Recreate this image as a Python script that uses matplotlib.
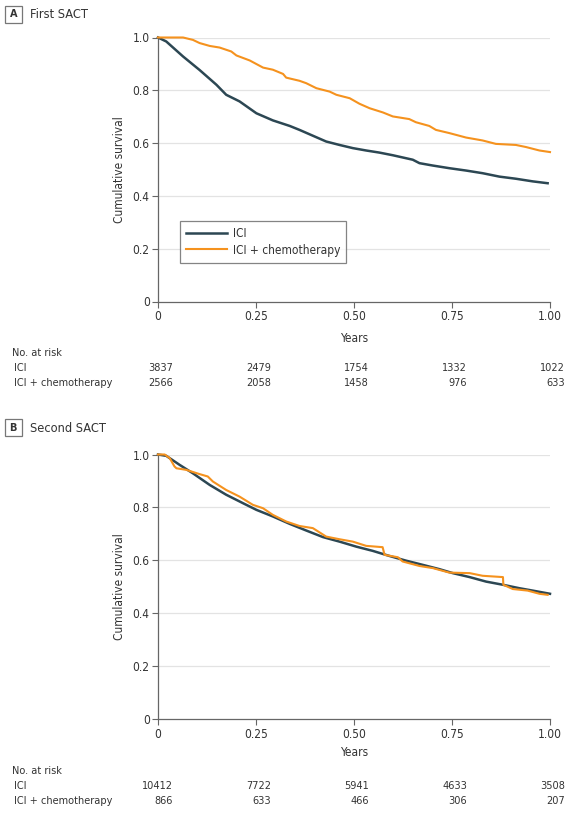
import matplotlib
matplotlib.use("Agg")
import matplotlib.pyplot as plt
from matplotlib.patches import Rectangle

plt.rcParams['font.family'] = ['DejaVu Sans']
plt.rcParams['font.stretch'] = 'condensed'

# ---------------- data ----------------
groups = ["ICI", "ICI + chemotherapy"]
xticks = [0, 0.25, 0.50, 0.75, 1.00]
xtick_labels = ["0", "0.25", "0.50", "0.75", "1.00"]
yticks = [0, 0.2, 0.4, 0.6, 0.8, 1.0]
ytick_labels = ["0", "0.2", "0.4", "0.6", "0.8", "1.0"]

a_ici_t = [0, .021, .064, .106, .149, .174, .208, .251, .293, .336, .361, .395, .429, .463,
           .497, .531, .565, .599, .650, .667, .701, .743, .786, .828, .871, .913, .956, .994]
a_ici_s = [1.0, .985, .928, .877, .821, .783, .758, .713, .686, .665, .650, .628, .606, .593,
           .581, .572, .564, .554, .537, .524, .515, .505, .496, .486, .473, .465, .455, .448]
a_chemo_t = [0, .064, .089, .106, .132, .157, .187, .200, .234, .268, .293, .319, .327, .361,
             .378, .404, .438, .455, .489, .514, .540, .574, .599, .641, .658, .692, .709, .743,
             .786, .828, .862, .913, .939, .973, 1.0]
a_chemo_s = [1.0, 1.0, .991, .979, .968, .962, .947, .932, .913, .886, .878, .862, .848, .836,
             .827, .808, .795, .783, .770, .749, .732, .716, .701, .691, .679, .665, .650, .638,
             .621, .610, .597, .593, .585, .572, .566]

b_ici_t = [0, .021, .055, .089, .132, .174, .217, .251, .293, .336, .378, .421, .463, .506,
           .548, .590, .633, .676, .718, .752, .795, .837, .880, .922, .956, 1.0]
b_ici_s = [1.0, .995, .961, .929, .885, .848, .816, .791, .766, .738, .713, .688, .671, .652,
           .636, .617, .599, .583, .567, .552, .537, .520, .508, .495, .486, .474]
b_chemo_t = [0, .017, .030, .042, .047, .072, .106, .127, .140, .174, .208, .242, .268, .293,
             .327, .361, .395, .429, .463, .497, .531, .573, .578, .612, .624, .667, .701, .743,
             .795, .828, .880, .881, .905, .943, .973, .994]
b_chemo_s = [1.0, 1.0, .986, .955, .948, .942, .926, .917, .898, .866, .841, .810, .797, .772,
             .747, .730, .722, .690, .680, .671, .655, .650, .621, .612, .596, .579, .571, .554,
             .552, .542, .537, .508, .492, .486, .474, .470]

a_risk_ici = ["3837", "2479", "1754", "1332", "1022"]
a_risk_chemo = ["2566", "2058", "1458", "976", "633"]
b_risk_ici = ["10412", "7722", "5941", "4633", "3508"]
b_risk_chemo = ["866", "633", "466", "306", "207"]

# ---------------- style ----------------
C_ICI = "#2c4753"
C_CHEMO = "#f5921e"
TXT = "#333333"
FS = 7.8

W, H = 570, 814
fig = plt.figure(figsize=(W / 100, H / 100), dpi=100)


def fx(px):
    return px / W


def fy(py):
    return 1 - py / H


def panel(top_px, bottom_px, label, title, box_py, ici_t, ici_s, ch_t, ch_s, risk_ici, risk_ch,
          show_legend, years_py, risk_py):
    ax = fig.add_axes([fx(158), fy(bottom_px), fx(550) - fx(158), fy(top_px) - fy(bottom_px)])
    ax.set_xlim(0, 1)
    ax.set_ylim(0, 1)
    for y in yticks[1:]:
        ax.axhline(y, color="#e3e3e3", lw=0.9, zorder=0)
    ax.plot(ici_t, ici_s, color=C_ICI, lw=1.8, clip_on=False, zorder=3, label=groups[0])
    ax.plot(ch_t, ch_s, color=C_CHEMO, lw=1.5, clip_on=False, zorder=4, label=groups[1])
    for s in ["top", "right"]:
        ax.spines[s].set_visible(False)
    for s in ["left", "bottom"]:
        ax.spines[s].set_color("#666666")
        ax.spines[s].set_linewidth(0.9)
    ax.set_xticks(xticks)
    ax.set_xticklabels(xtick_labels)
    ax.set_yticks(yticks)
    ax.set_yticklabels(ytick_labels)
    ax.tick_params(axis="both", length=4, width=0.8, color="#666666", labelsize=FS + 0.8,
                   labelcolor=TXT, pad=2)
    ax.set_ylabel("Cumulative survival", fontsize=FS + 0.8, color=TXT, labelpad=5)
    fig.text(fx(354), fy(years_py), "Years", ha="center", va="center", fontsize=FS + 0.8,
             color=TXT)
    if show_legend:
        leg = ax.legend(loc="upper left", bbox_to_anchor=(0.056, 0.305), frameon=True,
                        fancybox=False, fontsize=FS + 0.8, handlelength=3.4,
                        borderpad=0.5, labelspacing=0.3, handletextpad=0.5,
                        borderaxespad=0)
        leg.get_frame().set_edgecolor("#666666")
        leg.get_frame().set_linewidth(0.9)
        for t in leg.get_texts():
            t.set_color(TXT)
    # panel label
    fig.patches.append(Rectangle((fx(4.5), fy(box_py + 8.5)), fx(17.5), fy(box_py - 8.5) - fy(box_py + 8.5),
                                 transform=fig.transFigure, fill=False, edgecolor="#777777",
                                 lw=0.9))
    fig.text(fx(13.3), fy(box_py), label, ha="center", va="center", fontsize=FS,
             fontweight="bold", color=TXT)
    fig.text(fx(30), fy(box_py), title, ha="left", va="center", fontsize=FS + 1.4,
             color=TXT)
    # number at risk
    fig.text(fx(12), fy(risk_py), "No. at risk", ha="left", va="center", fontsize=FS,
             color=TXT)
    fig.text(fx(14), fy(risk_py + 15), groups[0], ha="left", va="center", fontsize=FS,
             color=TXT)
    fig.text(fx(14), fy(risk_py + 30), groups[1], ha="left", va="center", fontsize=FS,
             color=TXT)
    for i, t in enumerate(xticks):
        xp = 158 + t * 392 + 15
        fig.text(fx(xp), fy(risk_py + 15), risk_ici[i], ha="right", va="center", fontsize=FS,
                 color=TXT)
        fig.text(fx(xp), fy(risk_py + 30), risk_ch[i], ha="right", va="center", fontsize=FS,
                 color=TXT)
    return ax


panel(37.5, 301.5, "A", "First SACT", 14, a_ici_t, a_ici_s, a_chemo_t, a_chemo_s,
      a_risk_ici, a_risk_chemo, True, 339, 353)
panel(454.5, 719.3, "B", "Second SACT", 428, b_ici_t, b_ici_s, b_chemo_t, b_chemo_s,
      b_risk_ici, b_risk_chemo, False, 753, 771)

fig.savefig("out.png", dpi=100, facecolor="white")
